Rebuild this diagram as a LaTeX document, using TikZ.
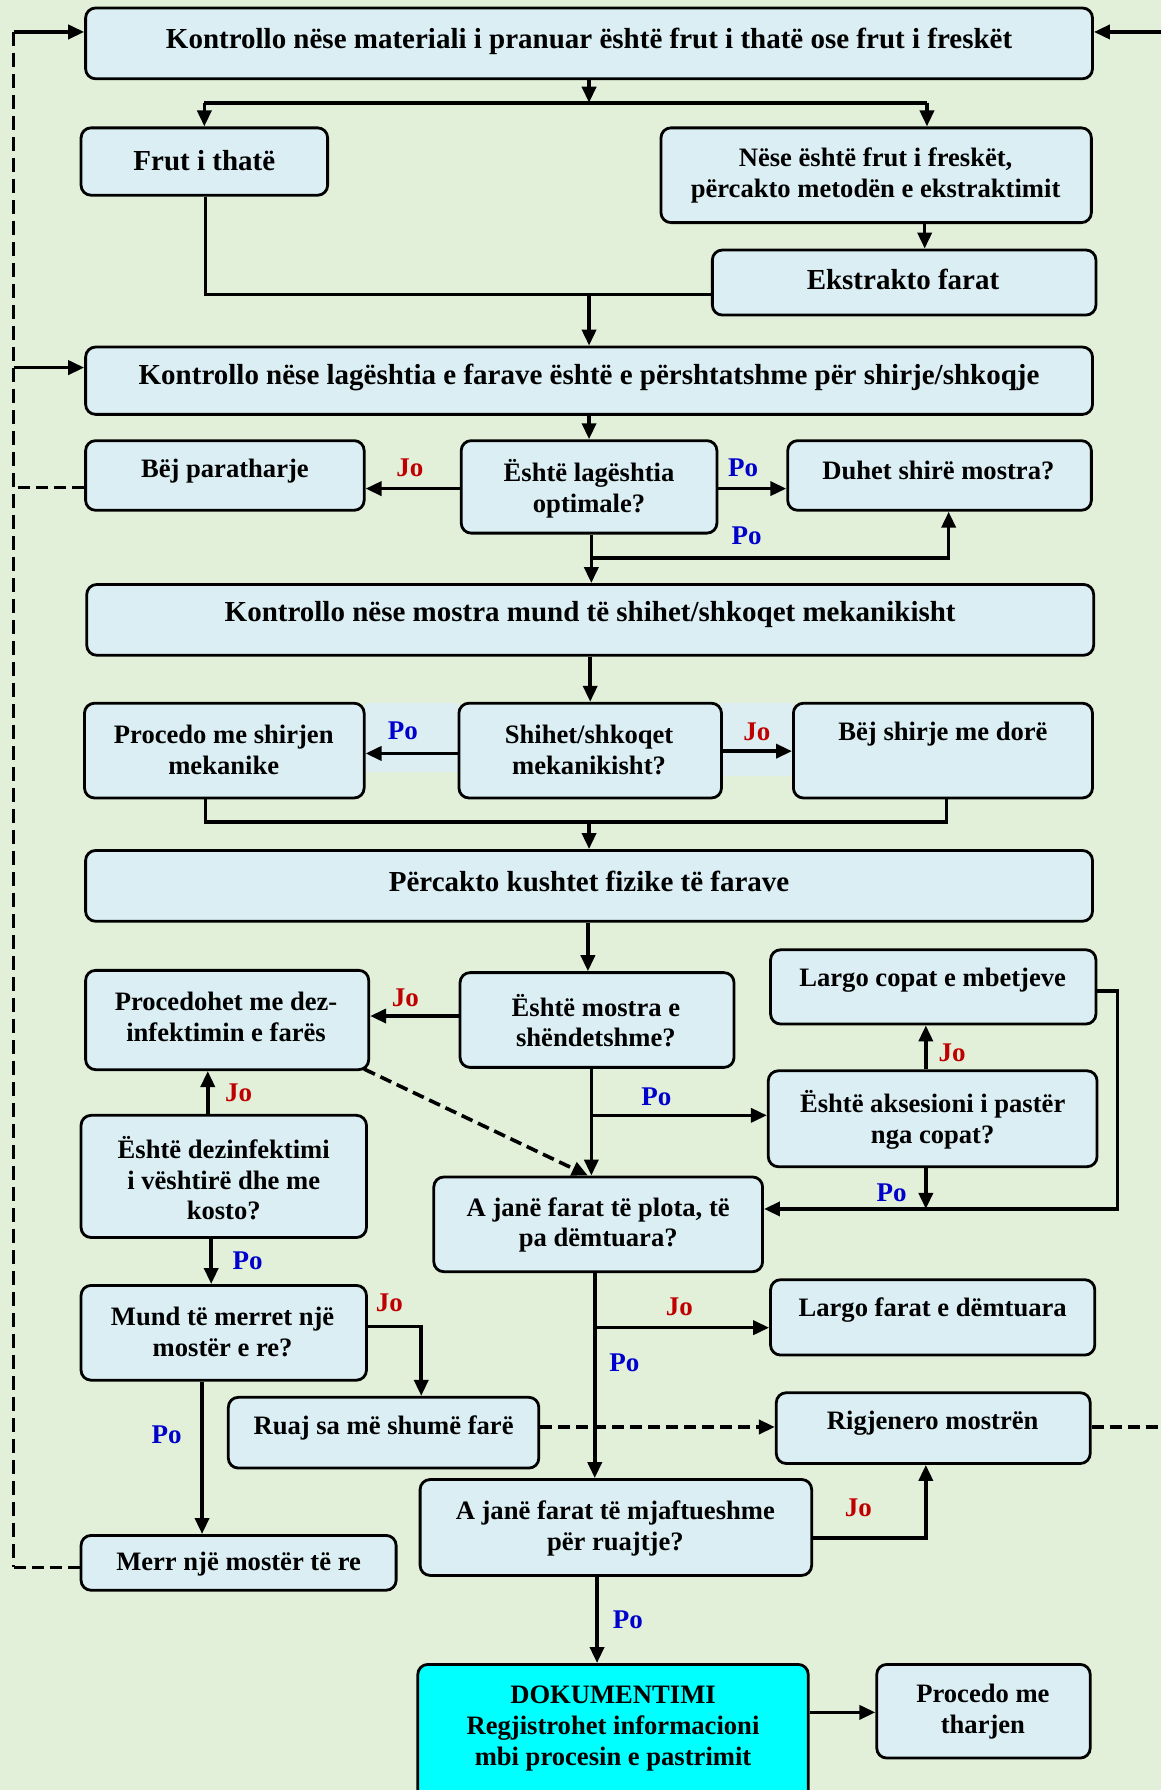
\documentclass[tikz,border=0pt]{standalone}
\usepackage{fontspec}
\setmainfont{Liberation Serif}
\usetikzlibrary{arrows.meta}
\definecolor{bgcol}{HTML}{E2EFD9}
\definecolor{boxfill}{HTML}{DAEEF3}
\definecolor{labbg}{HTML}{DCEEF1}
\definecolor{pocol}{HTML}{0000CC}
\definecolor{jocol}{HTML}{C00000}
\definecolor{cyanbox}{HTML}{00FFFF}
\def\u{0.5708pt}
\tikzset{
  box/.style={draw=black, line width=1.4pt, fill=boxfill, rounded corners=5pt, inner sep=0pt},
  txt/.style={font=\fontsize{13.3}{15.4}\selectfont\bfseries, align=center, inner sep=0pt},
  bigtxt/.style={txt, font=\fontsize{14.5}{15.6}\selectfont\bfseries},
  con/.style={line width=1.8pt, draw=black},
  arr/.style={con, -{Triangle[length=8pt,width=7pt]}},
  dsh/.style={line width=1.8pt, dash pattern=on 6pt off 3pt},
  ldsh/.style={line width=1.3pt, dash pattern=on 7pt off 3.5pt},
  po/.style={text=pocol, font=\fontsize{13.5}{15}\selectfont\bfseries, inner sep=0pt},
  jo/.style={text=jocol, font=\fontsize{13.5}{15}\selectfont\bfseries, inner sep=0pt}
}
\newcommand\bx[9][txt]{%
  \node[box, minimum width={(#4-#2)*\u}, minimum height={(#5-#3)*\u}] (#2) at ({(#3+#5)/2},{(#4+#6)/2}) {};
}
\newcommand\bxx[9]{%
  \node[box, minimum width={(#4-#2)*\u}, minimum height={(#5-#3)*\u}] (#1) at ({(#2+#4)/2},{(#3+#5)/2}) {};
  \node[#9] (#1-t) at (#6,#7) {#8};
}
\begin{document}
\begin{tikzpicture}[x=\u, y=-\u]
\useasboundingbox (0,0) rectangle (1017,1568);
\fill[bgcol] (0,0) rectangle (1017,1568);
\clip (0,0) rectangle (1017,1568);
% label backgrounds
\fill[labbg] (320,616) rectangle (402,676);
\fill[labbg] (632,616) rectangle (695,680);
% boxes
\bxx{n1}{75}{7}{957}{69}{516}{36}{Kontrollo nëse materiali i pranuar është frut i thatë ose frut i freskët}{bigtxt}
\bxx{n2}{71}{112}{287}{171}{179}{141}{Frut i thatë}{bigtxt}
\bxx{n3}{579}{112}{956}{195}{767}{154}{Nëse është frut i freskët,\\përcakto metodën e ekstraktimit}{txt}
\bxx{n4}{624}{219}{960}{276}{791}{245}{Ekstrakto farat}{bigtxt}
\bxx{n5}{75}{304}{957}{363}{516}{331}{Kontrollo nëse lagështia e farave është e përshtatshme për shirje/shkoqje}{bigtxt}
\bxx{n6}{75}{386}{319}{447}{197}{413}{Bëj paratharje}{txt}
\bxx{n7}{404}{386}{628}{467}{516}{428}{Është lagështia\\optimale?}{txt}
\bxx{n8}{690}{386}{956}{447}{822}{412}{Duhet shirë mostra?}{txt}
\bxx{n9}{76}{512}{958}{574}{517}{538}{Kontrollo nëse mostra mund të shihet/shkoqet mekanikisht}{bigtxt}
\bxx{n10}{74}{616}{319}{699}{196}{657}{Procedo me shirjen\\mekanike}{txt}
\bxx{n11}{402}{616}{632}{699}{516}{657}{Shihet/shkoqet\\mekanikisht?}{txt}
\bxx{n12}{695}{616}{957}{699}{826}{643}{Bëj shirje me dorë}{txt}
\bxx{n13}{75}{745}{957}{807}{516}{772}{Përcakto kushtet fizike të farave}{bigtxt}
\bxx{n14}{75}{850}{323}{937}{198}{891}{Procedohet me dez-\\infektimin e farës}{txt}
\bxx{n15}{403}{852}{643}{935}{522}{894}{Është mostra e\\shëndetshme?}{txt}
\bxx{n16}{675}{832}{960}{897}{817}{859}{Largo copat e mbetjeve}{txt}
\bxx{n17}{673}{938}{961}{1022}{817}{981}{Është aksesioni i pastër\\nga copat?}{txt}
\bxx{n18}{71}{977}{321}{1084}{196}{1032}{Është dezinfektimi\\i vështirë dhe me\\kosto?}{txt}
\bxx{n19}{380}{1031}{668}{1114}{524}{1073}{A janë farat të plota, të\\pa dëmtuara?}{txt}
\bxx{n20}{71}{1126}{321}{1209}{195}{1167}{Mund të merret një\\mostër e re?}{txt}
\bxx{n21}{675}{1121}{959}{1187}{817}{1148}{Largo farat e dëmtuara}{txt}
\bxx{n22}{200}{1224}{472}{1286}{336}{1251}{Ruaj sa më shumë farë}{txt}
\bxx{n23}{680}{1220}{955}{1282}{817}{1247}{Rigjenero mostrën}{txt}
\bxx{n24}{368}{1296}{711}{1380}{539}{1339}{A janë farat të mjaftueshme\\për ruajtje?}{txt}
\bxx{n25}{71}{1345}{347}{1393}{209}{1370}{Merr një mostër të re}{txt}
\node[box, fill=cyanbox, minimum width={(708-366)*\u}, minimum height={(1600-1458)*\u}] (n26) at ({(366+708)/2},{(1458+1600)/2}) {};
\node[txt] (n26-t) at (537,1514) {DOKUMENTIMI\\Regjistrohet informacioni\\mbi procesin e pastrimit};
\bxx{n27}{768}{1458}{955}{1540}{861}{1499}{Procedo me\\tharjen}{txt}
% helper coordinates
\coordinate (b1L) at (179,90); \coordinate (b1R) at (812,90); \coordinate (b1M) at (516,90);
\coordinate (a810) at (810,200);
\coordinate (b2L) at (180,258); \coordinate (b2M) at (516,258);
\coordinate (L28) at (12,28); \coordinate (L322) at (12,322); \coordinate (L427) at (12,427); \coordinate (L1373) at (12,1373);
\coordinate (R28) at (1017,28); \coordinate (R1250) at (1017,1250);
\coordinate (y428) at (500,428);
\coordinate (c518) at (518,489); \coordinate (c831) at (831,489);
\coordinate (y660) at (360,660); \coordinate (y658) at (660,658);
\coordinate (m180) at (180,720); \coordinate (m829) at (829,720); \coordinate (m516) at (516,720);
\coordinate (c515) at (515,830);
\coordinate (y890) at (360,890);
\coordinate (c518b) at (518,977);
\coordinate (c811) at (811,920);
\coordinate (r979a) at (979,868); \coordinate (r979b) at (979,1059);
\coordinate (d515) at (515,1000);
\coordinate (c182) at (182,960); \coordinate (c185) at (185,1100);
\coordinate (c369) at (369,1162); \coordinate (c177) at (177,1250);
\coordinate (c521) at (521,1163);
\coordinate (y1250) at (580,1250);
\coordinate (c811b) at (811,1347);
\coordinate (c523) at (523,1420);
\coordinate (y1500) at (740,1500);
% connectors
\draw[arr] (n1.south) -- (b1M);
\draw[con] (b1L) -- (b1R);
\draw[arr] (b1L) -- (b1L |- n2.north);
\draw[arr] (b1R) -- (b1R |- n3.north);
\draw[arr] (a810 |- n3.south) -- (a810 |- n4.north);
\draw[con] (b2L |- n2.south) -- (b2L) -- (b2L -| n4.west);
\draw[arr] (b2M) -- (b2M |- n5.north);
\draw[arr] (L28) -- (L28 -| n1.west);
\draw[arr] (L322) -- (L322 -| n5.west);
\draw[ldsh] (L28) -- (L1373);
\draw[dsh] (n6.west |- L427) -- (L427);
\draw[dsh] (n25.west |- L1373) -- (L1373);
\draw[arr] (R28) -- (R28 -| n1.east);
\draw[dsh] (n23.east |- R1250) -- (R1250);
\draw[arr] (n5.south) -- (n7.north);
\draw[arr] (n7.west |- y428) -- (n6.east |- y428);
\draw[arr] (n7.east |- y428) -- (n8.west |- y428);
\draw[arr] (c518 |- n7.south) -- (c518 |- n9.north);
\draw[arr] (c518) -- (c831) -- (c831 |- n8.south);
\draw[arr] (n11.north |- n9.south) -- (n11.north);
\draw[arr] (n11.west |- y660) -- (n10.east |- y660);
\draw[arr] (n11.east |- y658) -- (n12.west |- y658);
\draw[con] (m180 |- n10.south) -- (m180) -- (m829) -- (m829 |- n12.south);
\draw[arr] (m516) -- (m516 |- n13.north);
\draw[arr] (c515 |- n13.south) -- (c515 |- n15.north);
\draw[arr] (n15.west |- y890) -- (n14.east |- y890);
\draw[arr] (c518b |- n15.south) -- (c518b |- n19.north);
\draw[arr] (c518b) -- (c518b -| n17.west);
\draw[arr] (c811 |- n17.north) -- (c811 |- n16.south);
\draw[arr] (n16.east |- r979a) -- (r979a) -- (r979b) -- (r979b -| n19.east);
\draw[arr] (c811 |- n17.south) -- (c811 |- r979b);
\draw[dsh, -{Triangle[length=8pt,width=7pt]}] ([xshift=-3pt,yshift=1pt]n14.south east) -- (d515 |- n19.north);
\draw[arr] (c182 |- n18.north) -- (c182 |- n14.south);
\draw[arr] (c185 |- n18.south) -- (c185 |- n20.north);
\draw[arr] (n20.east |- c369) -- (c369) -- (c369 |- n22.north);
\draw[arr] (c177 |- n20.south) -- (c177 |- n25.north);
\draw[arr] (c521 |- n19.south) -- (c521 |- n24.north);
\draw[arr] (c521) -- (c521 -| n21.west);
\draw[dsh, -{Triangle[length=8pt,width=7pt]}] (n22.east |- y1250) -- (n23.west |- y1250);
\draw[arr] (n24.east |- c811b) -- (c811b) -- (c811b |- n23.south);
\draw[arr] (c523 |- n24.south) -- (c523 |- n26.north);
\draw[arr] (n26.east |- y1500) -- (n27.west |- y1500);
% labels
\node[jo] (l1) at (359,410) {Jo};
\node[po] (l2) at (651,410) {Po};
\node[po] (l3) at (654,469) {Po};
\node[po] (l4) at (353,640) {Po};
\node[jo] (l5) at (663,641) {Jo};
\node[jo] (l6) at (355,874) {Jo};
\node[po] (l7) at (575,961) {Po};
\node[jo] (l8) at (834,922) {Jo};
\node[po] (l9) at (781,1045) {Po};
\node[jo] (l10) at (209,957) {Jo};
\node[po] (l11) at (217,1104) {Po};
\node[jo] (l12) at (341,1141) {Jo};
\node[po] (l13) at (146,1257) {Po};
\node[jo] (l14) at (595,1145) {Jo};
\node[po] (l15) at (547,1194) {Po};
\node[jo] (l16) at (752,1321) {Jo};
\node[po] (l17) at (550,1419) {Po};
\end{tikzpicture}
\end{document}
